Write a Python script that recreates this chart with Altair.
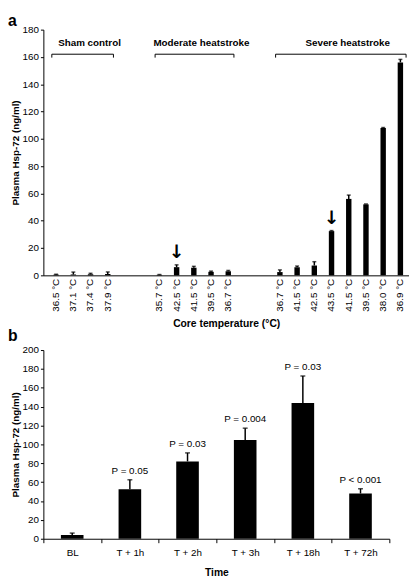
import altair as alt
import pandas as pd
import math

panel_letters = ["a", "b"]

# ---------- Panel a ----------
group_names = ["Sham control", "Moderate heatstroke", "Severe heatstroke"]
sham_temps = ["36.5 °C", "37.1 °C", "37.4 °C", "37.9 °C"]
sham_vals = [0.5, 0.6, 0.8, 1.0]
sham_errs = [0.3, 1.8, 0.7, 1.5]
mod_temps = ["35.7 °C", "42.5 °C", "41.5 °C", "39.5 °C", "36.7 °C"]
mod_vals = [0.4, 6.0, 5.6, 2.6, 3.0]
mod_errs = [0.2, 1.7, 1.0, 0.5, 0.6]
sev_temps = ["36.7 °C", "41.5 °C", "42.5 °C", "43.5 °C", "41.5 °C", "39.5 °C", "38.0 °C", "36.9 °C"]
sev_vals = [2.4, 6.0, 7.2, 32.4, 56.0, 52.0, 108.0, 156.0]
sev_errs = [1.6, 0.8, 2.8, 0.4, 2.8, 0.3, 0.3, 2.2]
arrow_marks = [("Moderate heatstroke", "42.5 °C"), ("Severe heatstroke", "43.5 °C")]

# ---------- Panel b ----------
times = ["BL", "T + 1h", "T + 2h", "T + 3h", "T + 18h", "T + 72h"]
b_vals = [4.0, 52.5, 82.0, 104.7, 144.0, 48.0]
b_errs = [2.0, 10.0, 9.0, 12.5, 28.5, 5.0]
p_labels = ["", "P = 0.05", "P = 0.03", "P = 0.004", "P = 0.03", "P < 0.001"]

y_title = "Plasma Hsp-72 (ng/ml)"

# ---------- build tables ----------
group_temps = [sham_temps, mod_temps, sev_temps]
group_vals = [sham_vals, mod_vals, sev_vals]
group_errs = [sham_errs, mod_errs, sev_errs]

rows, domain, brackets = [], [], []
for gi, (g, temps, vals, errs) in enumerate(zip(group_names, group_temps, group_vals, group_errs)):
    ks = [f"{g}|{i}|{t}" for i, t in enumerate(temps)]
    if gi > 0:
        domain += [f"gap{gi}a||", f"gap{gi}b||"]
    domain += ks
    for k, t, v, e in zip(ks, temps, vals, errs):
        rows.append({"key": k, "group": g, "temp": t, "value": v, "top": v + e,
                     "arrow": (g, t) in arrow_marks})
    brackets.append({"group": g, "first": ks[0], "last": ks[-1]})

dfa = pd.DataFrame(rows)
dfa_arrows = dfa[dfa["arrow"]].copy()
dfa_arrows["sym"] = "↓"
dfb_br = pd.DataFrame(brackets)
dfb_br["ylev"] = 162.0
dfb_br["yleg"] = 159.5
dfb_br["ytxt"] = 170.0

FONT = "Liberation Sans"
BLACK = "black"
BP0, BP1 = 0.25, 0.83


def xa(field, bp=None):
    kw = {}
    if bp is not None:
        kw["bandPosition"] = bp
    return alt.X(f"{field}:N", sort=None,
                 scale=alt.Scale(domain=domain, paddingInner=0, paddingOuter=0.12, align=1),
                 axis=alt.Axis(title="Core temperature (°C)", labelAngle=270,
                               labelExpr="split(datum.value, '|')[2]", ticks=False,
                               labelFontSize=10, labelPadding=3, titleFontSize=10.5,
                               titleFontWeight="bold", titlePadding=8),
                 **kw)


def ya(field):
    return alt.Y(f"{field}:Q", scale=alt.Scale(domain=[0, 180]),
                 axis=alt.Axis(title=y_title, values=list(range(0, 181, 20)),
                               tickSize=3, labelFontSize=10, labelPadding=2,
                               titleFontSize=10, titleFontWeight="bold", titlePadding=2))


base_a = alt.Chart(dfa)
bars_a = base_a.mark_bar(color=BLACK, width=5.5).encode(x=xa("key"), y=ya("value"))
err_a = base_a.mark_rule(color=BLACK, strokeWidth=1.5).encode(x=xa("key"), y=ya("value"), y2="top:Q")
cap_a = base_a.mark_tick(color=BLACK, thickness=1.5, size=4).encode(x=xa("key"), y=ya("top"))
arrows_a = alt.Chart(dfa_arrows).mark_text(font="DejaVu Sans", fontWeight="bold", fontSize=19,
                                            baseline="bottom", dy=-3, color=BLACK).encode(
    x=xa("key"), y=ya("top"), text="sym:N")

br = alt.Chart(dfb_br)
br_h = br.mark_rule(color=BLACK, strokeWidth=1).encode(
    x=xa("first", BP0), x2=alt.X2("last", bandPosition=BP1), y=ya("ylev"))
br_l = br.mark_rule(color=BLACK, strokeWidth=1).encode(
    x=xa("first", BP0), y=ya("ylev"), y2="yleg:Q")
br_r = br.mark_rule(color=BLACK, strokeWidth=1).encode(
    x=xa("last", BP1), y=ya("ylev"), y2="yleg:Q")

# group labels placed a little right of their brackets' centres
label_layers = []
for b in brackets:
    mid = (domain.index(b["first"]) + BP0 + domain.index(b["last"]) + BP1) / 2 + 0.4
    k = int(math.floor(mid))
    sub = dfb_br[dfb_br["group"] == b["group"]].copy()
    sub["midkey"] = domain[k]
    label_layers.append(
        alt.Chart(sub).mark_text(font=FONT, fontWeight="bold", fontSize=10, color=BLACK,
                                 baseline="middle", align="center").encode(
            x=xa("midkey", round(mid - k, 3)), y=ya("ytxt"), text="group:N"))

letters = pd.DataFrame({"letter": panel_letters})
letter_a = alt.Chart(letters[letters["letter"] == "a"]).mark_text(
    font=FONT, fontWeight="bold", fontSize=16, align="left", baseline="top", color=BLACK).encode(
    x=alt.value(-36), y=alt.value(-17), text="letter:N")
letter_b = alt.Chart(letters[letters["letter"] == "b"]).mark_text(
    font=FONT, fontWeight="bold", fontSize=16, align="left", baseline="top", color=BLACK).encode(
    x=alt.value(-36), y=alt.value(304), text="letter:N")

panel_a = alt.layer(bars_a, err_a, cap_a, arrows_a, br_h, br_l, br_r, *label_layers,
                    letter_a, letter_b).properties(width=372, height=250)

# ---------- panel b ----------
dfb = pd.DataFrame({"time": times, "value": b_vals, "top": [v + e for v, e in zip(b_vals, b_errs)],
                    "p": p_labels})


def xb(field):
    return alt.X(f"{field}:N", sort=None, scale=alt.Scale(domain=times, paddingInner=0, paddingOuter=0),
                 axis=alt.Axis(title="Time", labelAngle=0, tickBand="extent", tickSize=4,
                               labelFontSize=10, labelPadding=5, titleFontSize=10.5,
                               titleFontWeight="bold", titlePadding=10))


def yb(field):
    return alt.Y(f"{field}:Q", scale=alt.Scale(domain=[0, 200]),
                 axis=alt.Axis(title=y_title, values=list(range(0, 201, 20)),
                               tickSize=3, labelFontSize=10, labelPadding=2,
                               titleFontSize=10, titleFontWeight="bold", titlePadding=2))


base_b = alt.Chart(dfb)
bars_b = base_b.mark_bar(color=BLACK, width=23).encode(x=xb("time"), y=yb("value"))
err_b = base_b.mark_rule(color=BLACK, strokeWidth=1.5).encode(x=xb("time"), y=yb("value"), y2="top:Q")
cap_b = base_b.mark_tick(color=BLACK, thickness=1.5, size=5).encode(x=xb("time"), y=yb("top"))
ptxt_b = base_b.mark_text(font=FONT, fontSize=10, baseline="bottom", dy=-4, color=BLACK).encode(
    x=xb("time"), y=yb("top"), text="p:N")

panel_b = alt.layer(bars_b, err_b, cap_b, ptxt_b).properties(width=352, height=192)

chart = alt.vconcat(panel_a, panel_b, spacing=76, bounds="flush").properties(
    padding=0
).configure_axis(
    domainColor=BLACK, tickColor=BLACK, labelColor=BLACK, titleColor=BLACK,
    labelFont=FONT, titleFont=FONT, grid=False, domainWidth=1
).configure_view(stroke=None)

chart.save("out.html", embed_options={"renderer": "svg", "actions": False})
